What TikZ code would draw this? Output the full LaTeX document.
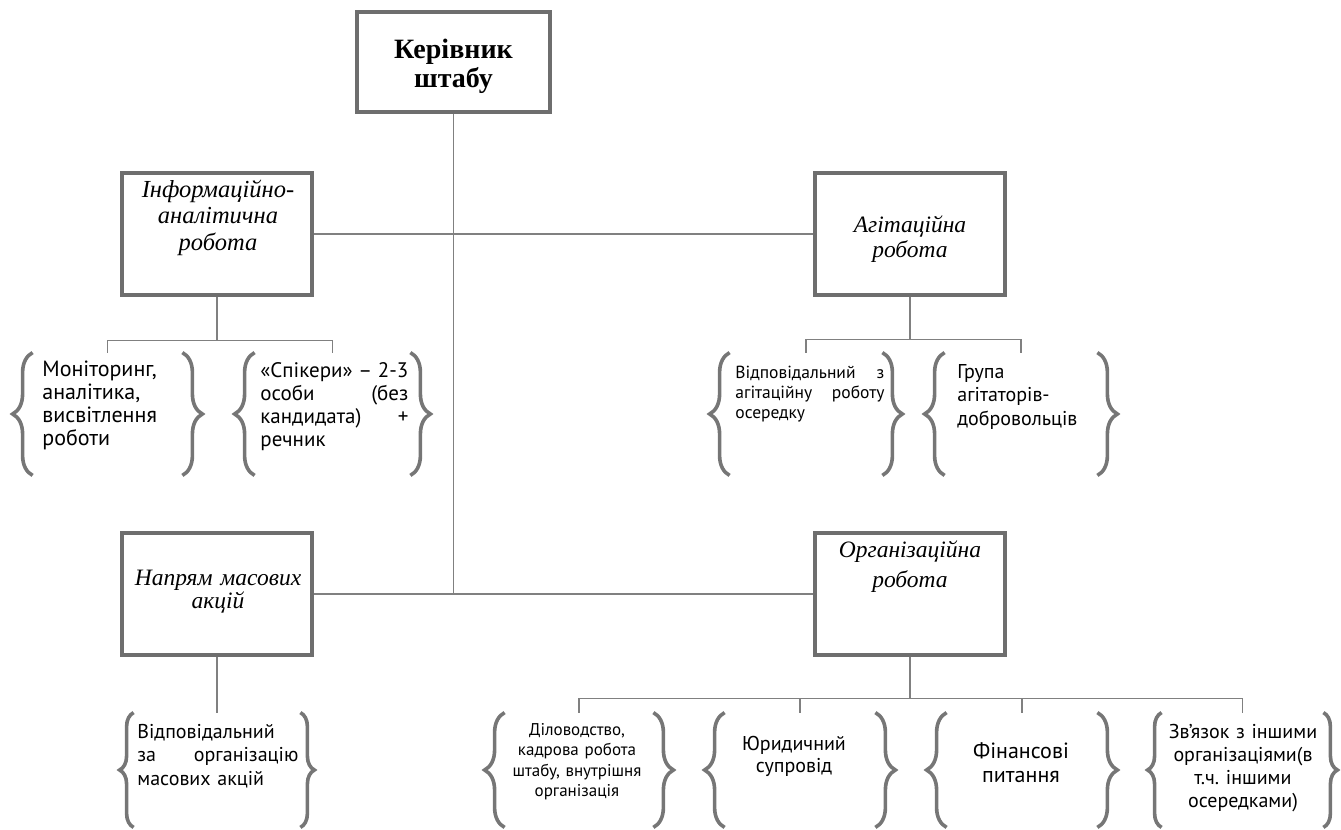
\documentclass[tikz,border=0pt]{standalone}
\usepackage{fontspec}
\setmainfont{Liberation Serif}
\setsansfont{PT Sans}
\usetikzlibrary{calc}
\usetikzlibrary{decorations.pathreplacing}
\frenchspacing

\definecolor{boxgray}{HTML}{6E6E6E}
\definecolor{linegray}{HTML}{808080}
\definecolor{bracegray}{HTML}{767676}

% a justified line of given width
\newcommand\jline[2]{\makebox[#1][s]{\spaceskip=0pt\xspaceskip=0pt #2}}

\tikzset{
    unitbox/.style={draw=boxgray, line width=1.65pt, fill=white, inner sep=0pt,
        minimum width=95pt, minimum height=61pt},
    boxtext/.style={anchor=base, align=center, text width=92pt, inner sep=0pt},
    conn/.style={draw=linegray, line width=0.75pt},
    grp/.style={inner sep=0pt, minimum width=#1, minimum height=61pt},
    brc/.style={draw=bracegray, line width=1.8pt, decorate,
        decoration={brace, amplitude=#1}},
    brc/.default=10pt,
    grptext/.style={anchor=base west, align=left, inner sep=0pt},
    midtext/.style={anchor=base, align=center, inner sep=0pt},
}

\begin{document}
\begin{tikzpicture}[x=0.5pt,y=-0.5pt]
    \useasboundingbox (0,0) rectangle (1341,830);

    % units
    \node[unitbox, minimum width=96.5pt, minimum height=50pt] (chief) at (453.5,62) {};
    \node[unitbox] (info) at (217,234) {};
    \node[unitbox] (agit) at (910,234) {};
    \node[unitbox] (mass) at (217,594) {};
    \node[unitbox] (org) at (910,594) {};

    \node[boxtext, font=\bfseries\fontsize{14}{14.75}\selectfont] (chief-t) at (453.5,58) {Керівник\\штабу};
    \node[boxtext, font=\itshape\fontsize{12.25}{13.25}\selectfont] (info-t) at (218,197) {Інформаційно-\\аналітична\\робота};
    \node[boxtext, font=\itshape\fontsize{11.75}{13}\selectfont] (agit-t) at (910,232) {Агітаційна\\робота};
    \node[boxtext, font=\itshape\fontsize{11.75}{11.75}\selectfont] (mass-t) at (218,585) {Напрям масових\\акцій};
    \node[boxtext, font=\itshape\fontsize{11.75}{15}\selectfont] (org-t) at (910,557) {Організаційна\\робота};

    % groups under the units
    \node[grp=74.5pt] (mon) at (107.5,414) {};
    \node[grp=77.5pt] (spk) at (332.5,414) {};
    \node[grp=76pt] (agt1) at (806,414) {};
    \node[grp=76pt] (agt2) at (1021,414) {};
    \node[grp=83pt, minimum height=57pt] (mass1) at (217,770) {};
    \node[grp=74pt, minimum height=57pt] (org1) at (579,770) {};
    \node[grp=75pt, minimum height=57pt] (org2) at (800,770) {};
    \node[grp=75pt, minimum height=57pt] (org3) at (1022,770) {};
    \node[grp=80.5pt, minimum height=57pt] (org4) at (1242.5,770) {};

    \foreach \g in {mon,spk,agt1,agt2,org1,org2,org3} {
        \draw[brc] (\g.south west) -- (\g.north west);
        \draw[brc] (\g.north east) -- (\g.south east);
    }
    \foreach \g in {mass1,org4} {
        \draw[brc=7pt] (\g.south west) -- (\g.north west);
        \draw[brc=7pt] (\g.north east) -- (\g.south east);
    }

    \node[grptext, text width=80pt, font=\sffamily\fontsize{11}{11.5}\selectfont] (mon-t) at (42,376)
        {Моніторинг,\\аналітика,\\висвітлення\\роботи};
    \node[grptext, text width=74pt, font=\sffamily\fontsize{10.5}{11.5}\selectfont] (spk-t) at (260,377)
        {\jline{74pt}{«Спікери» – 2-3}\\\jline{74pt}{особи (без}\\\jline{74pt}{кандидата) +}\\речник};
    \node[grptext, text width=74.5pt, font=\sffamily\fontsize{8.75}{10}\selectfont] (agt1-t) at (735,378)
        {\jline{74.5pt}{Відповідальний з}\\\jline{74.5pt}{агітаційну роботу}\\осередку};
    \node[grptext, text width=80pt, font=\sffamily\fontsize{10}{11.75}\selectfont] (agt2-t) at (957,378)
        {Група\\агітаторів-\\добровольців};
    \node[grptext, text width=80.5pt, font=\sffamily\fontsize{10}{11.75}\selectfont] (mass1-t) at (137,738)
        {Відповідальний\\\jline{80.5pt}{за організацію}\\масових акцій};
    \node[midtext, text width=75pt, font=\sffamily\fontsize{8.5}{10.25}\selectfont] (org1-t) at (577,735)
        {Діловодство,\\кадрова робота\\штабу, внутрішня\\організація};
    \node[midtext, text width=75pt, font=\sffamily\fontsize{10}{11}\selectfont] (org2-t) at (794,750)
        {Юридичний\\супровід};
    \node[midtext, text width=75pt, font=\sffamily\fontsize{11}{12}\selectfont] (org3-t) at (1021,758)
        {Фінансові\\питання};
    \node[midtext, text width=85pt, font=\sffamily\fontsize{10}{11.5}\selectfont] (org4-t) at (1243,738)
        {Зв’язок з іншими\\організаціями(в\\т.ч. іншими\\осередками)};

    % connectors
    \draw[conn] (chief.south) -- (chief.south |- mass.east);
    \draw[conn] (info.east) -- (agit.west);
    \draw[conn] (mass.east) -- (org.west);

    \coordinate (infobar) at ($(info.south)+(0,44)$);
    \draw[conn] (info.south) -- (infobar);
    \draw[conn] (mon.north) |- (infobar) -| (spk.north);

    \coordinate (agitbar) at ($(agit.south)+(0,43)$);
    \draw[conn] (agit.south) -- (agitbar);
    \draw[conn] (agt1.north) |- (agitbar) -| (agt2.north);

    \draw[conn] (mass.south) -- (mass1.north);

    \coordinate (orgbar) at ($(org.south)+(0,42)$);
    \draw[conn] (org.south) -- (orgbar);
    \draw[conn] (org1.north) |- (orgbar) -| (org4.north);
    \foreach \g in {org2,org3}
        \draw[conn] (\g.north) -- (\g.north |- orgbar);

\end{tikzpicture}
\end{document}
